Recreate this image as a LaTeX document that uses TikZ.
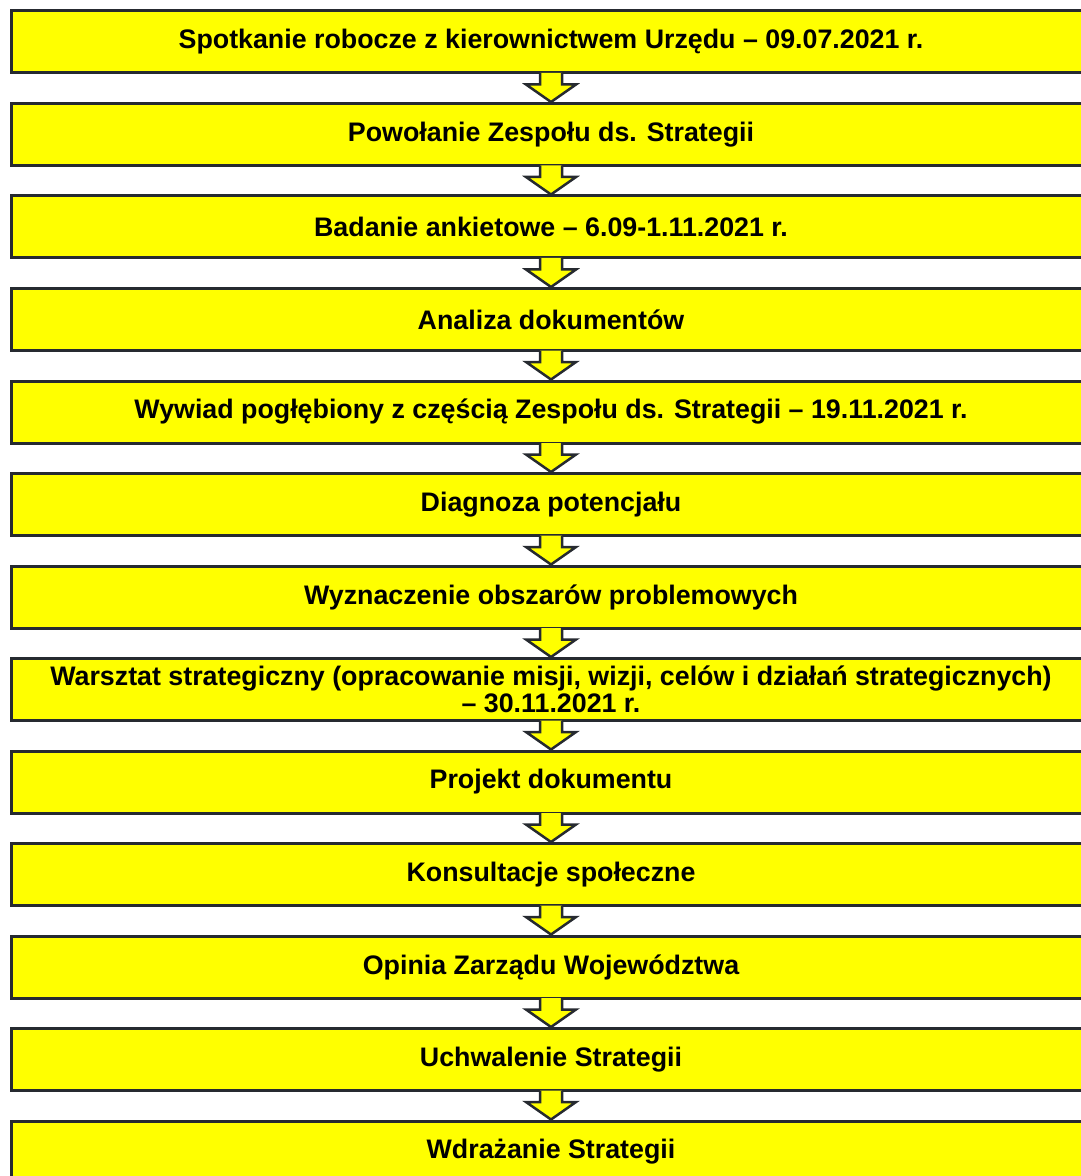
\documentclass[tikz,border=0pt]{standalone}
\usepackage{fontspec}
\setmainfont{Liberation Sans}
\usepackage{tikz}
\usetikzlibrary{calc}

\definecolor{stepyellow}{RGB}{255,255,0}
\definecolor{stepline}{RGB}{38,42,48}

% block arrow from the bottom of one step into the top of the next
\newcommand{\StepArrow}[2]{%
  \filldraw[steparrow] ($(#1.south)+(-11,-1.5)$) -- ($(#1.south)+(-11,10)$)
    -- ($(#1.south)+(-25,10)$) -- (#2.north) -- ($(#1.south)+(25,10)$)
    -- ($(#1.south)+(11,10)$) -- ($(#1.south)+(11,-1.5)$);}

\begin{document}
\begin{tikzpicture}[x=0.5pt,y=-0.5pt,
  stepbox/.style={draw=stepline, fill=stepyellow, line width=1.5pt,
    minimum width=540pt, minimum height=31pt, inner sep=0pt,
    font=\fontsize{13.4}{13.5}\selectfont\bfseries, align=center},
  steparrow/.style={draw=stepline, fill=stepyellow, line width=1.25pt, line join=miter}]
\useasboundingbox (0,0) rectangle (1080,1176);
\node[stepbox] (spotkanie) at (551,42) {Spotkanie robocze z kierownictwem Urzędu – 09.07.2021 r.};
\node[stepbox] (powolanie) at (551,134.5) {Powołanie Zespołu ds. Strategii};
\node[stepbox] (ankieta) at (551,227) {Badanie ankietowe – 6.09-1.11.2021 r.};
\node[stepbox] (analiza) at (551,319.5) {Analiza dokumentów};
\node[stepbox] (wywiad) at (551,412) {Wywiad pogłębiony z częścią Zespołu ds. Strategii – 19.11.2021 r.};
\node[stepbox] (diagnoza) at (551,504.5) {Diagnoza potencjału};
\node[stepbox] (obszary) at (551,597) {Wyznaczenie obszarów problemowych};
\node[stepbox] (warsztat) at (551,689.5) {Warsztat strategiczny (opracowanie misji, wizji, celów i działań strategicznych)\\– 30.11.2021 r.};
\node[stepbox] (projekt) at (551,782) {Projekt dokumentu};
\node[stepbox] (konsultacje) at (551,874.5) {Konsultacje społeczne};
\node[stepbox] (opinia) at (551,967) {Opinia Zarządu Województwa};
\node[stepbox] (uchwalenie) at (551,1059.5) {Uchwalenie Strategii};
\node[stepbox] (wdrazanie) at (551,1152) {Wdrażanie Strategii};
\StepArrow{spotkanie}{powolanie}
\StepArrow{powolanie}{ankieta}
\StepArrow{ankieta}{analiza}
\StepArrow{analiza}{wywiad}
\StepArrow{wywiad}{diagnoza}
\StepArrow{diagnoza}{obszary}
\StepArrow{obszary}{warsztat}
\StepArrow{warsztat}{projekt}
\StepArrow{projekt}{konsultacje}
\StepArrow{konsultacje}{opinia}
\StepArrow{opinia}{uchwalenie}
\StepArrow{uchwalenie}{wdrazanie}
\end{tikzpicture}
\end{document}
